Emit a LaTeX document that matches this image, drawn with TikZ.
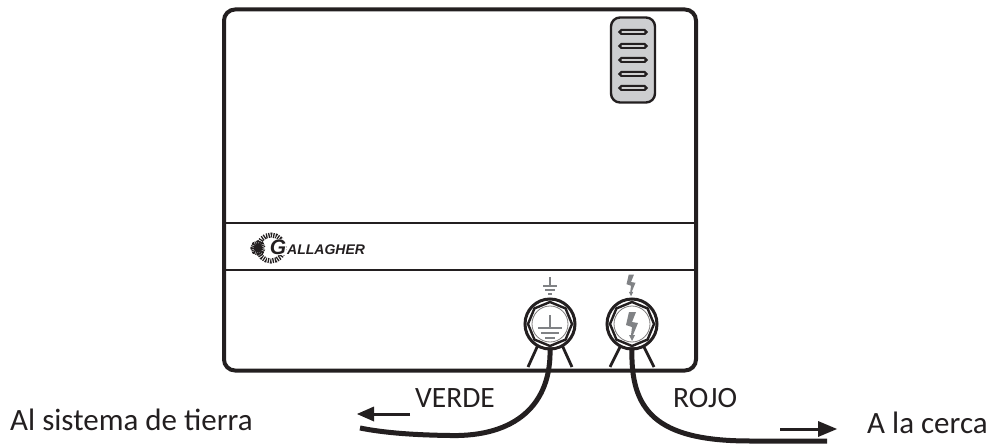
\documentclass[tikz,border=0pt]{standalone}
\usepackage{fontspec}
\usetikzlibrary{shapes.geometric,shapes.misc}
\setmainfont{Carlito}
\newfontfamily\logofont{Liberation Sans}
\definecolor{ink}{HTML}{231F20}
\definecolor{vent}{HTML}{CDCED0}
\definecolor{bolt}{HTML}{808285}
\tikzset{
  x=1pt,y=-1pt,
  lbl/.style={font=\fontsize{29.5}{32}\selectfont,text=ink,inner sep=0pt,anchor=base west},
  lblbig/.style={lbl,font=\fontsize{31}{34}\selectfont},
  thin line/.style={draw=ink,line width=2.8pt},
  wire/.style={draw=ink,line width=5pt},
  slot/.style={rounded rectangle,draw=ink,line width=2.2pt,fill=vent!45,minimum width=27pt,minimum height=3.8pt,inner sep=0pt},
  arrowline/.style={draw=ink,line width=3pt},
  arrowhead/.style={fill=ink,draw=none},
  lead/.style={draw=ink,line width=2.8pt},
  boltshape/.style={fill=bolt,draw=none},
  ring/.style={circle,draw=ink,line width=3pt,fill=white,minimum size=50pt,inner sep=0pt},
  nut/.style={regular polygon,regular polygon sides=8,shape border rotate=22.5,draw=ink,line width=2.4pt,minimum size=44pt,inner sep=0pt},
  nutin/.style={circle,draw=ink!60,line width=0.8pt,minimum size=36pt,inner sep=0pt},
  gbar/.style={draw=bolt,line width=2pt}
}
\newcommand{\boltat}[3]{% centre x, centre y, scale
  \fill[boltshape,shift={(#1,#2)},scale=#3]
   (-3,-14) -- (4,-14) -- (0,-4) -- (6,-3) -- (1,9) -- (3,9) -- (0,15) -- (-3,9) -- (-1,9) -- (0,1) -- (-6,-1) -- cycle;
}
\begin{document}
\begin{tikzpicture}
\useasboundingbox (0,0) rectangle (991,444);
% housing
\node[draw=ink,line width=4pt,rounded corners=11pt,minimum width=472pt,minimum height=361pt,inner sep=0pt,anchor=north west] (box) at (222,7.5) {};
\coordinate (bandL1) at (box.west |- 0,223);
\coordinate (bandR1) at (box.east |- 0,223);
\coordinate (bandL2) at (box.west |- 0,270);
\coordinate (bandR2) at (box.east |- 0,270);
\draw[thin line] (bandL1) -- (bandR1);
\draw[thin line] (bandL2) -- (bandR2);
% vent
\node[draw=ink,line width=2.4pt,fill=vent,rounded corners=9pt,minimum width=44pt,minimum height=85pt,inner sep=0pt] (vent) at (633,60) {};
\foreach \n/\y in {a/32,b/46,c/60,d/74,e/88}
  \node[slot] (slot\n) at (633,\y) {};
% logo
\node[circle,draw=ink,line width=5pt,dash pattern=on 1.3pt off 1.1pt,minimum size=26pt,inner sep=0pt] (logoring) at (271,248) {};
\node[circle,draw=ink,line width=6pt,dash pattern=on 1pt off 0.7pt,fill=ink,minimum size=9pt,inner sep=0pt] (logocore) at (258,248) {};
\node[fill=white,inner sep=0.3pt,font=\logofont\bfseries\itshape\fontsize{21}{21}\selectfont,text=ink] (logoG) at (278,247) {G};
\node[font=\logofont\bfseries\itshape\fontsize{14}{15}\selectfont,text=ink,inner sep=0pt,anchor=base west] (logo) at (287,254) {ALLAGHER};
% leads
\coordinate (gl0) at (538,345); \coordinate (gl1) at (528,367);
\coordinate (gr0) at (562,345); \coordinate (gr1) at (572,367);
\coordinate (hl0) at (621,345); \coordinate (hl1) at (610,367);
\coordinate (hr0) at (643,345); \coordinate (hr1) at (654,367);
\draw[lead] (gl0) -- (gl1);
\draw[lead] (gr0) -- (gr1);
\draw[lead] (hl0) -- (hl1);
\draw[lead] (hr0) -- (hr1);
% ground terminal
\node[ring] (gnd) at (550,324) {};
\node[nut] (gndnut) at (gnd) {};
\node[nutin] (gndin) at (gnd) {};
\draw[gbar] (550,315) -- (550,328);
\draw[gbar] (538,328) -- (562,328);
\draw[gbar] (541,333) -- (559,333);
\draw[gbar] (545,338) -- (555,338);
\draw[gbar] (550,277) -- (550,286);
\draw[gbar] (543,286) -- (557,286);
\draw[gbar] (545,290) -- (555,290);
\draw[gbar] (548,294) -- (552,294);
% fence terminal
\node[ring] (hot) at (632,324) {};
\node[nut] (hotnut) at (hot) {};
\node[nutin] (hotin) at (hot) {};
\boltat{632}{326}{1}
\boltat{631}{285}{0.75}
% wires
\coordinate (gw) at (360,428);
\coordinate (hw) at (827,441);
\draw[wire] (gndnut.south) .. controls (552,405) and (515,437) .. (450,435.5) .. controls (415,435) and (385,433) .. (gw);
\draw[wire] (hotnut.south) .. controls (630,410) and (655,441) .. (750,441) -- (hw);
% arrows
\coordinate (ga0) at (410,414); \coordinate (ga1) at (372,414);
\coordinate (ha0) at (780,429); \coordinate (ha1) at (820,429);
\draw[arrowline] (ga0) -- (ga1);
\fill[arrowhead] (357,414) -- (374,406.5) -- (374,421.5) -- cycle;
\draw[arrowline] (ha0) -- (ha1);
\fill[arrowhead] (837,429) -- (818,421) -- (818,437) -- cycle;
% labels
\node[lbl] (verde) at (415,407) {VERDE};
\node[lbl] (rojo) at (673,407) {ROJO};
\node[lblbig] (sis) at (10,430) {Al sistema de tierra};
\node[lblbig] (cerca) at (867,433) {A la cerca};
\end{tikzpicture}
\end{document}
